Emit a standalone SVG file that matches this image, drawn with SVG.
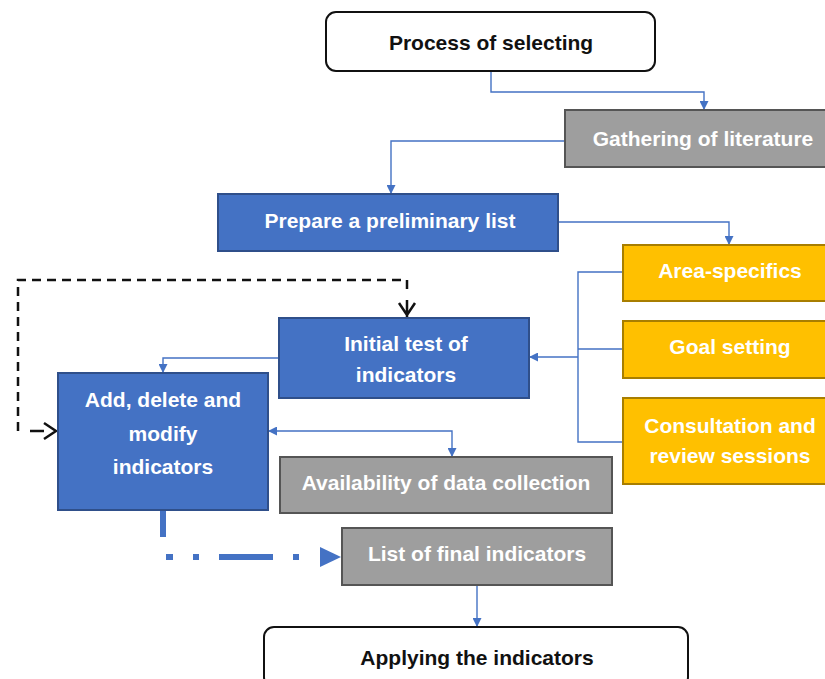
<svg xmlns="http://www.w3.org/2000/svg" width="825" height="679" viewBox="0 0 825 679">
<defs>
<style>
.t{font-family:"Liberation Sans",Arial,sans-serif;font-weight:bold;font-size:21px;text-anchor:middle;dominant-baseline:central}
.w{fill:#ffffff}
.k{fill:#111111}
.white{fill:#ffffff;stroke:#111;stroke-width:2}
.blue{fill:#4472C4;stroke:#2F4F8A;stroke-width:2}
.gray{fill:#9E9E9E;stroke:#555;stroke-width:2}
.orange{fill:#FFC000;stroke:#A87E00;stroke-width:2}
.c{fill:none;stroke:#4472C4;stroke-width:1.4}
.bk{fill:none;stroke:#111;stroke-width:2.5}
.th{fill:none;stroke:#4472C4;stroke-width:6}
</style>
<marker id="ab" viewBox="0 0 10 10" refX="10" refY="5" markerWidth="9" markerHeight="9" markerUnits="userSpaceOnUse" orient="auto-start-reverse">
<path d="M0,0 L10,5 L0,10 z" fill="#4472C4"/>
</marker>
</defs>

<g id="connectors">
<path class="c" d="M491,71 V92 H704 V110" marker-end="url(#ab)"/>
<path class="c" d="M565,141 H391 V194" marker-end="url(#ab)"/>
<path class="c" d="M558,222 H729 V245" marker-end="url(#ab)"/>
<path class="c" d="M623,272 H578 V442 H623 M578,349 H623"/>
<path class="c" d="M578,357 H529" marker-end="url(#ab)"/>
<path class="c" d="M279,358 H163 V373" marker-end="url(#ab)"/>
<path class="c" d="M268,431 H452 V457" marker-start="url(#ab)" marker-end="url(#ab)"/>
<path class="c" d="M477,585 V627" marker-end="url(#ab)"/>
<path class="bk" d="M18,431 V280 H407 V291" stroke-dasharray="9,6"/>
<path class="bk" d="M407,300 V317 M399,303 L407,315 L415,303"/>
<path class="bk" d="M30,431 H44 M44,423 L56,431 L44,439"/>
<path class="th" d="M163,510 V537"/>
<path class="th" d="M166,557 H173 M193,557 H199 M219,557 H273 M293,557 H299 M320,557 H325"/>
<path d="M320,547 L341,557 L320,567 z" fill="#4472C4"/>
</g>

<g id="process-of-selecting"><rect class="white" x="326" y="12" width="329" height="59" rx="10"/><text class="t k" x="491" y="42">Process of selecting</text></g>
<g id="gathering-of-literature"><rect class="gray" x="565" y="110" width="262" height="57"/><text class="t w" x="703" y="138">Gathering of literature</text></g>
<g id="prepare-preliminary-list"><rect class="blue" x="218" y="194" width="340" height="57"/><text class="t w" x="390" y="220">Prepare a preliminary list</text></g>
<g id="area-specifics"><rect class="orange" x="623" y="245" width="205" height="56"/><text class="t w" x="730" y="270">Area-specifics</text></g>
<g id="goal-setting"><rect class="orange" x="623" y="321" width="205" height="57"/><text class="t w" x="730" y="346">Goal setting</text></g>
<g id="consultation"><rect class="orange" x="623" y="398" width="205" height="86"/><text class="t w" x="730" y="425">Consultation and</text><text class="t w" x="730" y="455">review sessions</text></g>
<g id="initial-test"><rect class="blue" x="279" y="318" width="250" height="80"/><text class="t w" x="406" y="343">Initial test of</text><text class="t w" x="406" y="374">indicators</text></g>
<g id="add-delete-modify"><rect class="blue" x="58" y="373" width="210" height="137"/><text class="t w" x="163" y="399">Add, delete and</text><text class="t w" x="163" y="433">modify</text><text class="t w" x="163" y="466">indicators</text></g>
<g id="availability"><rect class="gray" x="280" y="457" width="332" height="56"/><text class="t w" x="446" y="482">Availability of data collection</text></g>
<g id="list-final"><rect class="gray" x="342" y="528" width="270" height="57"/><text class="t w" x="477" y="553">List of final indicators</text></g>
<g id="applying"><rect class="white" x="264" y="627" width="424" height="60" rx="10"/><text class="t k" x="477" y="657">Applying the indicators</text></g>
</svg>
